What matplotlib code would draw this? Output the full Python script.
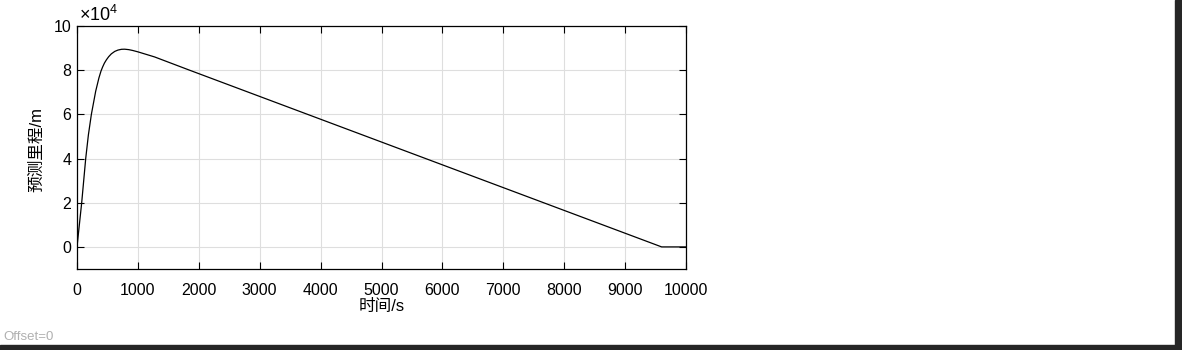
import numpy as np
import matplotlib
matplotlib.use('Agg')
import matplotlib.pyplot as plt
from matplotlib.ticker import FuncFormatter
from matplotlib.patches import Rectangle

# 读图得到的数据点 (时间 s, 预测里程 m)
time_s = [0, 77, 143, 187, 236, 307, 360, 394, 420, 450, 483, 520, 564, 620,
          672, 730, 782, 850, 918, 1000, 1274, 1848, 9600, 10000]
dist_m = [0, 20000, 40000, 50700, 60000, 70500, 76500, 79600, 81400, 83200,
          84700, 86100, 87400, 88500, 89100, 89450, 89500, 89300, 88900,
          88300, 86000, 80000, 0, 0]

x_ticks = [0, 1000, 2000, 3000, 4000, 5000, 6000, 7000, 8000, 9000, 10000]
y_ticks = [0, 20000, 40000, 60000, 80000, 100000]

plt.rcParams['font.family'] = ['Liberation Sans', 'Noto Sans CJK SC']
plt.rcParams['mathtext.fontset'] = 'custom'
plt.rcParams['mathtext.rm'] = 'Liberation Sans'

fig = plt.figure(figsize=(11.82, 3.5), dpi=100)
ax = fig.add_axes([77/1182, 1-269/350, 609/1182, 243/350])

ax.plot(time_s, dist_m, color='k', lw=0.9)

ax.set_xlim(0, 10000)
ax.set_ylim(-10000, 100000)
ax.set_xticks(x_ticks)
ax.set_yticks(y_ticks)
ax.yaxis.set_major_formatter(FuncFormatter(lambda v, p: '%d' % round(v / 1e4)))
ax.grid(True, color='#dedede', lw=0.8)
ax.set_axisbelow(True)
ax.tick_params(direction='in', length=5, width=0.8, labelsize=11.5,
               top=True, right=True)
ax.tick_params(axis='x', pad=10)
ax.tick_params(axis='y', pad=4)
for s in ax.spines.values():
    s.set_linewidth(0.9)

ax.set_xlabel('时间/s', fontsize=12)
ax.set_ylabel('预测里程/m', fontsize=12)
ax.xaxis.set_label_coords(0.5, -0.125)
ax.yaxis.set_label_coords(-0.054, 0.49)

ax.text(0.003, 1.005, r'$\times10^{4}$', transform=ax.transAxes,
        ha='left', va='bottom', fontsize=13)

fig.text(3/1182, 1-337/350, 'Offset=0', color='#b0b0b0', fontsize=9.5,
         ha='left', va='center')

# 右侧和底部的深色边框
fig.patches.append(Rectangle((1175/1182, 0), 7/1182, 1, transform=fig.transFigure,
                             color='#262626', zorder=10))
fig.patches.append(Rectangle((0, 0), 1, 5/350, transform=fig.transFigure,
                             color='#262626', zorder=10))

fig.savefig('out.png', dpi=100)
